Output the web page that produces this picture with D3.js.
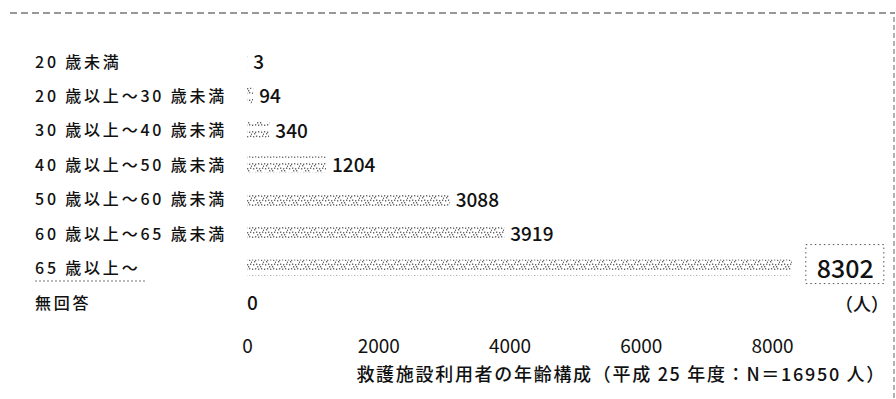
<!DOCTYPE html>
<html><head><meta charset="utf-8">
<script src="https://cdn.jsdelivr.net/npm/d3@7"></script>
<style>
html,body{margin:0;padding:0;background:#fff;}
text{font-family:"Noto Sans CJK JP","Noto Sans",sans-serif;fill:#111;}
</style></head>
<body><svg id="c" width="896" height="399"></svg>
<script>
const categories = ["20 歳未満","20 歳以上～30 歳未満","30 歳以上～40 歳未満","40 歳以上～50 歳未満","50 歳以上～60 歳未満","60 歳以上～65 歳未満","65 歳以上～","無回答"];
const values = [3,94,340,1204,3088,3919,8302,0];
const tickValues = [0,2000,4000,6000,8000];
const unitLabel = "（人）";
const title = "救護施設利用者の年齢構成（平成 25 年度：N＝16950 人）";
const highlight = "65 歳以上～";

const svg = d3.select("#c");
const x = d3.scaleLinear().domain([0,8000]).range([247,772]);
const y = d3.scalePoint().domain(categories).range([62,303]);

// stipple pattern
const defs = svg.append("defs");
const pat = defs.append("pattern").attr("id","stip").attr("patternUnits","userSpaceOnUse")
  .attr("width",12).attr("height",16).attr("y",0);
const dots = [[0,3],[3,3.5],[6,3],[9,3.5],[1,8],[4,7.5],[7,8],[10,7.5],[0,12.5],[3,12],[6,12.5],[9,12],[2,5],[8,10],[5,10],[11,5.5]];
dots.forEach(d=>pat.append("rect").attr("x",d[0]).attr("y",d[1]).attr("width",1.3).attr("height",1.5).attr("fill","#6a6a6a"));

// frame (dashed top and right)
svg.append("line").attr("x1",10).attr("x2",895).attr("y1",13).attr("y2",13)
  .attr("stroke","#333").attr("stroke-width",1.2).attr("stroke-dasharray","7,4");
svg.append("line").attr("x1",894).attr("x2",894).attr("y1",17).attr("y2",399)
  .attr("stroke","#666").attr("stroke-width",1).attr("stroke-dasharray","5,3");

// category labels
svg.append("g").selectAll("text").data(categories).join("text")
  .attr("x",35).attr("y",d=>y(d)).attr("dy","0.35em")
  .attr("font-size",16).attr("letter-spacing",2.8).attr("font-weight",500)
  .text(d=>d);

// bars
const bh = 16;
svg.append("g").selectAll("rect").data(values.map((v,i)=>({v,c:categories[i]}))).join("rect")
  .attr("x",x(0)).attr("y",d=>y(d.c)-bh/2 - 1).attr("width",d=>x(d.v)-x(0)).attr("height",bh)
  .attr("fill","url(#stip)");

// value labels
svg.append("g").selectAll("text").data(values.map((v,i)=>({v,c:categories[i]}))).join("text")
  .attr("x",d=>d.c===highlight ? x(d.v)+25 : x(d.v)+(d.v>0?6:0))
  .attr("y",d=>y(d.c)).attr("dy","0.36em")
  .attr("font-size",d=>d.c===highlight?25:19).attr("font-weight",500)
  .text(d=>d.v);

// dotted box around highlighted value
const hv = values[categories.indexOf(highlight)];
svg.append("rect").attr("x",x(hv)+14).attr("y",y(highlight)-24).attr("width",78).attr("height",39)
  .attr("fill","none").attr("stroke","#555").attr("stroke-width",1).attr("stroke-dasharray","1.5,3");

// faint scribble under 65+
svg.append("line").attr("x1",35).attr("x2",146).attr("y1",281).attr("y2",281)
  .attr("stroke","#777").attr("stroke-width",1).attr("stroke-dasharray","2,2");

// x axis
const ax = svg.append("g").attr("transform","translate(0,339)")
  .call(d3.axisBottom(x).tickValues(tickValues).tickSize(0).tickPadding(0).tickFormat(d3.format("d")));
ax.select(".domain").remove();
ax.selectAll("text").attr("font-size",19).attr("font-family",'"Noto Sans CJK JP","Noto Sans",sans-serif').attr("fill","#111").attr("dy","0.71em");

// unit label
svg.append("text").attr("x",889).attr("y",305).attr("dy","0.35em").attr("text-anchor","end")
  .attr("font-size",18).attr("font-weight",500).text(unitLabel);

// title
svg.append("text").attr("x",886).attr("y",375).attr("dy","0.35em").attr("text-anchor","end")
  .attr("font-size",18).attr("letter-spacing",1.7).attr("font-weight",500).text(title);
</script></body></html>
